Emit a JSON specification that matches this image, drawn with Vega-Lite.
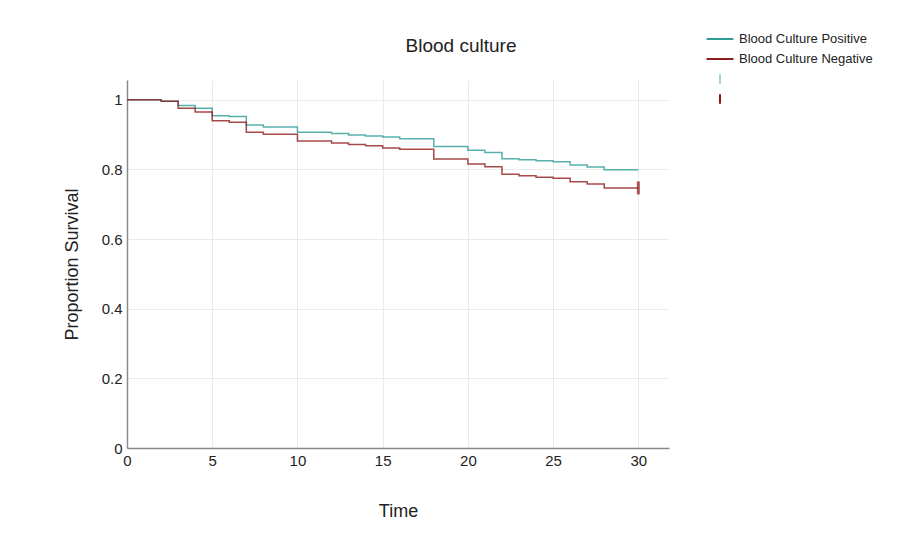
{
  "$schema": "https://vega.github.io/schema/vega-lite/v6.json",
  "width": 542,
  "height": 368,
  "autosize": {"type": "none"},
  "padding": {"left": 127, "top": 80, "right": 240, "bottom": 96},
  "background": "white",
  "title": {"text": "Blood culture", "font": "Liberation Sans", "fontSize": 19, "fontWeight": "normal", "color": "#222222", "anchor": "middle", "offset": -25, "dx": 63},
  "config": {
    "view": {"stroke": null},
    "axis": {
      "labelFont": "Liberation Sans", "labelFontSize": 15, "labelColor": "#222222",
      "titleFont": "Liberation Sans", "titleFontSize": 18, "titleFontWeight": "normal", "titleColor": "#222222",
      "gridColor": "#ebebeb", "gridWidth": 1, "domainColor": "#8a8a8a", "domainWidth": 1.5, "ticks": false,
      "labelFlush": false
    },
    "legend": {"padding": 0}
  },
  "datasets": {
    "km": [
      {"time": 0, "surv": 1, "group": "Blood Culture Positive"},
      {"time": 2, "surv": 0.996, "group": "Blood Culture Positive"},
      {"time": 3, "surv": 0.984, "group": "Blood Culture Positive"},
      {"time": 4, "surv": 0.976, "group": "Blood Culture Positive"},
      {"time": 5, "surv": 0.954, "group": "Blood Culture Positive"},
      {"time": 6, "surv": 0.952, "group": "Blood Culture Positive"},
      {"time": 7, "surv": 0.928, "group": "Blood Culture Positive"},
      {"time": 8, "surv": 0.922, "group": "Blood Culture Positive"},
      {"time": 10, "surv": 0.907, "group": "Blood Culture Positive"},
      {"time": 12, "surv": 0.903, "group": "Blood Culture Positive"},
      {"time": 13, "surv": 0.899, "group": "Blood Culture Positive"},
      {"time": 14, "surv": 0.896, "group": "Blood Culture Positive"},
      {"time": 15, "surv": 0.893, "group": "Blood Culture Positive"},
      {"time": 16, "surv": 0.888, "group": "Blood Culture Positive"},
      {"time": 18, "surv": 0.866, "group": "Blood Culture Positive"},
      {"time": 20, "surv": 0.855, "group": "Blood Culture Positive"},
      {"time": 21, "surv": 0.849, "group": "Blood Culture Positive"},
      {"time": 22, "surv": 0.831, "group": "Blood Culture Positive"},
      {"time": 23, "surv": 0.828, "group": "Blood Culture Positive"},
      {"time": 24, "surv": 0.825, "group": "Blood Culture Positive"},
      {"time": 25, "surv": 0.822, "group": "Blood Culture Positive"},
      {"time": 26, "surv": 0.813, "group": "Blood Culture Positive"},
      {"time": 27, "surv": 0.807, "group": "Blood Culture Positive"},
      {"time": 28, "surv": 0.799, "group": "Blood Culture Positive"},
      {"time": 30, "surv": 0.799, "group": "Blood Culture Positive"},
      {"time": 0, "surv": 1, "group": "Blood Culture Negative"},
      {"time": 2, "surv": 0.996, "group": "Blood Culture Negative"},
      {"time": 3, "surv": 0.976, "group": "Blood Culture Negative"},
      {"time": 4, "surv": 0.965, "group": "Blood Culture Negative"},
      {"time": 5, "surv": 0.940, "group": "Blood Culture Negative"},
      {"time": 6, "surv": 0.936, "group": "Blood Culture Negative"},
      {"time": 7, "surv": 0.907, "group": "Blood Culture Negative"},
      {"time": 8, "surv": 0.901, "group": "Blood Culture Negative"},
      {"time": 10, "surv": 0.882, "group": "Blood Culture Negative"},
      {"time": 12, "surv": 0.876, "group": "Blood Culture Negative"},
      {"time": 13, "surv": 0.872, "group": "Blood Culture Negative"},
      {"time": 14, "surv": 0.868, "group": "Blood Culture Negative"},
      {"time": 15, "surv": 0.862, "group": "Blood Culture Negative"},
      {"time": 16, "surv": 0.858, "group": "Blood Culture Negative"},
      {"time": 18, "surv": 0.830, "group": "Blood Culture Negative"},
      {"time": 20, "surv": 0.816, "group": "Blood Culture Negative"},
      {"time": 21, "surv": 0.808, "group": "Blood Culture Negative"},
      {"time": 22, "surv": 0.786, "group": "Blood Culture Negative"},
      {"time": 23, "surv": 0.782, "group": "Blood Culture Negative"},
      {"time": 24, "surv": 0.778, "group": "Blood Culture Negative"},
      {"time": 25, "surv": 0.775, "group": "Blood Culture Negative"},
      {"time": 26, "surv": 0.765, "group": "Blood Culture Negative"},
      {"time": 27, "surv": 0.758, "group": "Blood Culture Negative"},
      {"time": 28, "surv": 0.747, "group": "Blood Culture Negative"},
      {"time": 30, "surv": 0.747, "group": "Blood Culture Negative"}
    ],
    "censor": [
      {"time": 30, "surv": 0.747, "group": "cens_neg"}
    ]
  },
  "layer": [
    {
      "data": {"name": "km"},
      "mark": {"type": "line", "interpolate": "step-after", "strokeWidth": 1.5, "opacity": 0.8},
      "encoding": {
        "x": {"field": "time", "type": "quantitative", "title": "Time",
              "scale": {"domain": [0, 31.8], "nice": false},
              "axis": {"values": [0, 5, 10, 15, 20, 25, 30], "labelPadding": 5, "titlePadding": 34}},
        "y": {"field": "surv", "type": "quantitative", "title": "Proportion Survival",
              "scale": {"domain": [0, 1.057], "nice": false},
              "axis": {"values": [0, 0.2, 0.4, 0.6, 0.8, 1], "format": "~g", "labelPadding": 5, "titlePadding": 20}},
        "color": {"field": "group", "type": "nominal",
                  "scale": {"domain": ["Blood Culture Positive", "Blood Culture Negative", "cens_pos", "cens_neg"],
                            "range": ["#2e9c98", "#8e1b1b", "#9fd3d0", "#8b1010"]},
                  "legend": {
                    "title": null, "orient": "none", "legendX": 585, "legendY": -49,
                    "labelFont": "Liberation Sans", "labelFontSize": 13, "labelColor": "#222222",
                    "symbolSize": 182, "labelOffset": 11, "rowPadding": 2, "symbolOpacity": 1,
                    "encode": {
                      "labels": {"update": {
                        "opacity": {"signal": "indexof(datum.value, 'cens') >= 0 ? 0 : 1"}
                      }},
                      "symbols": {"update": {
                        "shape": {"signal": "indexof(datum.value, 'cens') >= 0 ? 'M0,-0.72V0.72' : 'M0,-0.72M0,0.72M-2,0H2'"},
                        "stroke": {"scale": "color", "field": "value"},
                        "fill": {"value": "transparent"},
                        "strokeWidth": {"value": 2},
                        "opacity": {"value": 1}
                      }}
                    }
                  }}
      }
    },
    {
      "data": {"name": "censor"},
      "mark": {"type": "tick", "orient": "vertical", "size": 13, "thickness": 3},
      "encoding": {
        "x": {"field": "time", "type": "quantitative"},
        "y": {"field": "surv", "type": "quantitative"},
        "color": {"field": "group", "type": "nominal"}
      }
    }
  ]
}
